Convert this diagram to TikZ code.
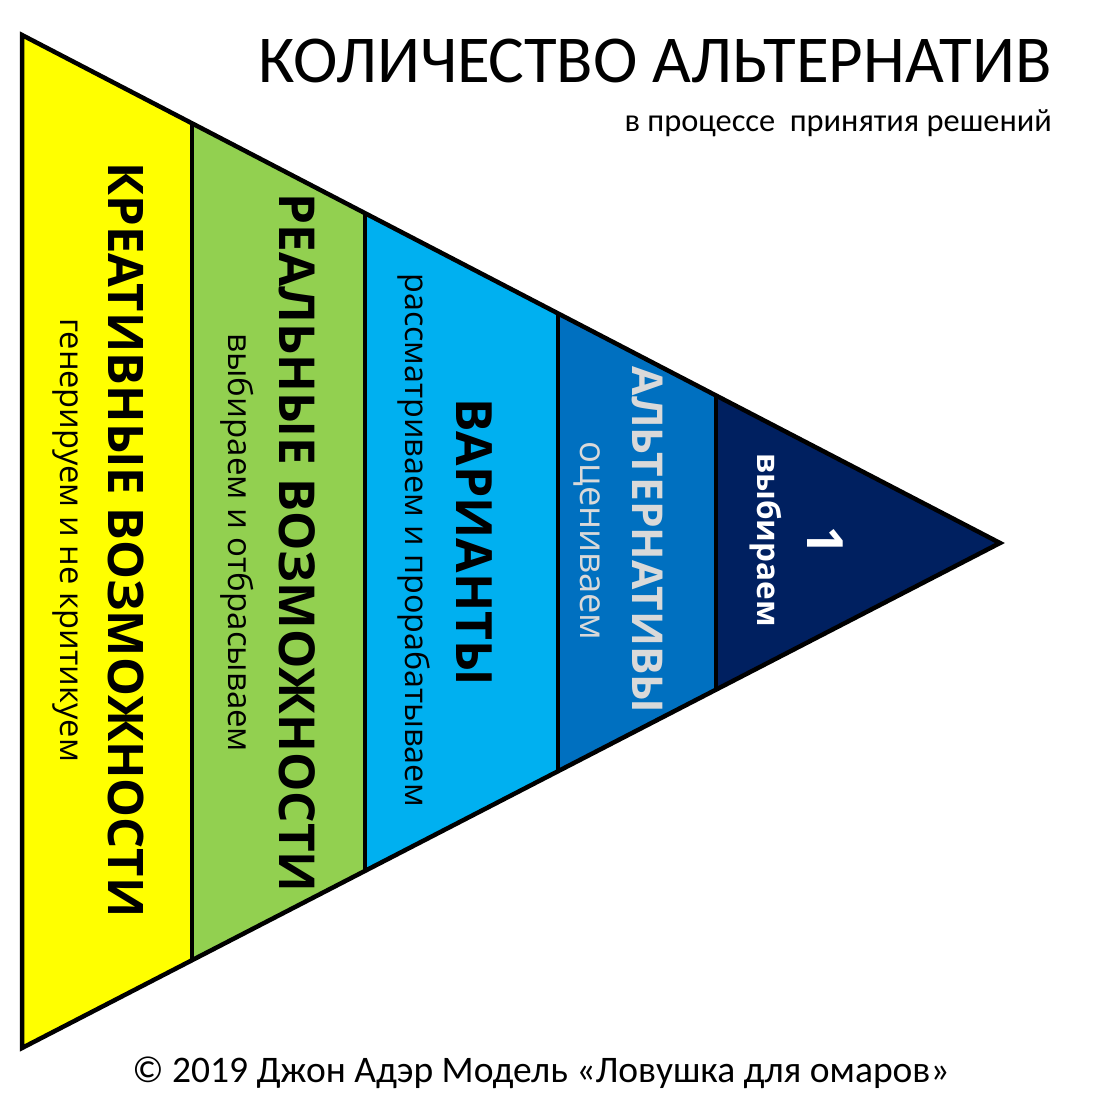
\documentclass[tikz,border=0pt]{standalone}
\usepackage{fontspec}
\setmainfont{Carlito}
\newfontfamily\stripfont{Open Sans}
\usetikzlibrary{calc}
\definecolor{cYellow}{RGB}{255,255,0}
\definecolor{cGreen}{RGB}{146,208,80}
\definecolor{cSky}{RGB}{0,176,240}
\definecolor{cBlue}{RGB}{0,112,192}
\definecolor{cNavy}{RGB}{0,32,96}
\definecolor{cPale}{RGB}{217,217,217}

\begin{document}
\begin{tikzpicture}[
  x=1pt, y=-1pt,
  head/.style={font=\stripfont\bfseries\fontsize{#1}{#1}\selectfont,
    rotate=-90, anchor=base, inner sep=0pt},
  note/.style={font=\stripfont\fontsize{#1}{#1}\selectfont,
    rotate=-90, anchor=base, inner sep=0pt},
  edge/.style={line width=4.5pt, black},
]
\useasboundingbox (0,0) rectangle (1093,1114);

% Funnel corners
\coordinate (tl) at (22,35);
\coordinate (bl) at (22,1048);
\coordinate (tip) at (1000,543);

% Strips, cut out of the triangle
\begin{scope}
  \clip (tl) -- (tip) -- (bl) -- cycle;
  \fill[cYellow] (0,0) rectangle (192,1114);
  \fill[cGreen] (192,0) rectangle (365,1114);
  \fill[cSky] (365,0) rectangle (558,1114);
  \fill[cBlue] (558,0) rectangle (716,1114);
  \fill[cNavy] (716,0) rectangle (1093,1114);
  \draw[line width=4pt] (192,0) -- (192,1114);
  \draw[line width=4pt] (365,0) -- (365,1114);
  \draw[line width=4pt] (558,0) -- (558,1114);
  \draw[line width=4pt] (716,0) -- (716,1114);
\end{scope}
\draw[edge] (tl) -- (tip) -- (bl) -- cycle;

% Strip labels
\node[head=49] (kreat) at (108,540) {КРЕАТИВНЫЕ ВОЗМОЖНОСТИ};
\node[note=32.6] (kreatNote) at (60,540) {генерируем и не критикуем};
\node[head=49.5] (real) at (279,543) {РЕАЛЬНЫЕ ВОЗМОЖНОСТИ};
\node[note=33] (realNote) at (228,543) {выбираем и отбрасываем};
\node[head=50] (var) at (456,542) {ВАРИАНТЫ};
\node[note=32.3] (varNote) at (405,540) {рассматриваем и прорабатываем};
\node[head=42.5, text=cPale] (alt) at (632,540) {АЛЬТЕРНАТИВЫ};
\node[note=36.4, text=cPale] (altNote) at (580,541) {оцениваем};
\node[head=50, text=white] (one) at (807,541) {1};
\node[head=31.5, text=white] (oneNote) at (757,540) {выбираем};

% Title and credit
\node[font=\fontsize{67}{67}\selectfont, anchor=base east, inner sep=0pt]
  (title) at (1052,82) {КОЛИЧЕСТВО АЛЬТЕРНАТИВ};
\node[font=\fontsize{32.4}{32.4}\selectfont, anchor=base east, inner sep=0pt]
  (subtitle) at (1052,131) {в процессе\ \ принятия решений};
\node[font=\fontsize{37.5}{37.5}\selectfont, anchor=base, inner sep=0pt]
  (credit) at (541,1082) {© 2019 Джон Адэр Модель «Ловушка для омаров»};

\end{tikzpicture}
\end{document}
